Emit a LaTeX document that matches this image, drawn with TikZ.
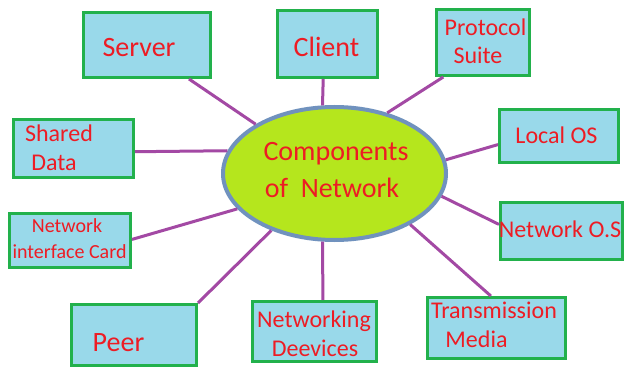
\documentclass[tikz,border=0pt]{standalone}
\usepackage{fontspec}
\setmainfont{Carlito}
\usetikzlibrary{shapes.geometric}
\definecolor{boxfill}{HTML}{99D9EA}
\definecolor{boxline}{HTML}{22B14C}
\definecolor{txtred}{HTML}{ED1C24}
\definecolor{linkline}{HTML}{A349A4}
\definecolor{corefill}{HTML}{B5E61D}
\definecolor{coreline}{HTML}{7092BE}
\tikzset{
  box/.style 2 args={draw=boxline, fill=boxfill, line width=2.25pt, inner sep=0pt,
    minimum width=#1*0.75pt, minimum height=#2*0.75pt},
  lbl/.style={text=txtred, anchor=base, inner sep=0pt},
  bigtxt/.style={lbl, font=\fontsize{21}{21}\selectfont},
  midtxt/.style={lbl, font=\fontsize{18}{18}\selectfont},
  smalltxt/.style={lbl, font=\fontsize{15}{15}\selectfont},
  link/.style={draw=linkline, line width=2.25pt}
}
\begin{document}
\begin{tikzpicture}[x=0.75pt, y=-0.75pt]
\fill[white] (0,0) rectangle (631,374);
\useasboundingbox (0,0) rectangle (631,374);
\node[ellipse, draw=coreline, fill=corefill, line width=3pt, inner sep=0pt,
  minimum width=223*0.75pt, minimum height=133*0.75pt] (core) at (334.5,173.5) {};
\node[bigtxt] (core-a) at (336,161) {Components};
\node[bigtxt] (core-b) at (332,197) {of\ \ Network};
\node[box={127}{65}] (server) at (147,45) {};
\node[bigtxt] (server-t) at (139,57) {Server};
\node[box={100}{67}] (client) at (327.5,44) {};
\node[bigtxt] (client-t) at (326.5,57) {Client};
\node[box={93}{66}] (proto) at (483,42.5) {};
\node[midtxt] (proto-a) at (485.5,36) {Protocol};
\node[midtxt] (proto-b) at (478,64) {Suite};
\node[box={119}{53}] (localos) at (559,136) {};
\node[midtxt] (localos-t) at (556.5,143) {Local OS};
\node[box={120}{58}] (shared) at (73.5,148.5) {};
\node[midtxt] (shared-a) at (59,142) {Shared};
\node[midtxt] (shared-b) at (54,171) {Data};
\node[box={121}{54}] (nic) at (70,240.5) {};
\node[smalltxt] (nic-a) at (67,232) {Network};
\node[smalltxt] (nic-b) at (69.5,258) {interface Card};
\node[box={125}{61}] (peer) at (134,335) {};
\node[bigtxt] (peer-t) at (118.5,351) {Peer};
\node[box={124}{60}] (netdev) at (314.5,331.5) {};
\node[midtxt] (netdev-a) at (314,327) {Networking};
\node[midtxt] (netdev-b) at (315,356) {Deevices};
\node[box={138}{61}] (media) at (496.5,328) {};
\node[midtxt] (media-a) at (494,318) {Transmission};
\node[midtxt] (media-b) at (476.5,347) {Media};
\node[box={122}{57}] (netos) at (561.5,231) {};
\node[midtxt] (netos-t) at (560,237) {Network O.S};
\foreach \a/\b in {server.-39/core.148, client.-97/core.100, proto.221/core.49,
  localos.188/core.7, shared.-3/core.168, nic.1/core.200, peer.north east/core.222,
  netdev.75/core.260, media.100/core.-34, netos.174/core.-12} {
\draw[link] (\a) -- (\b);
}
\end{tikzpicture}
\end{document}
